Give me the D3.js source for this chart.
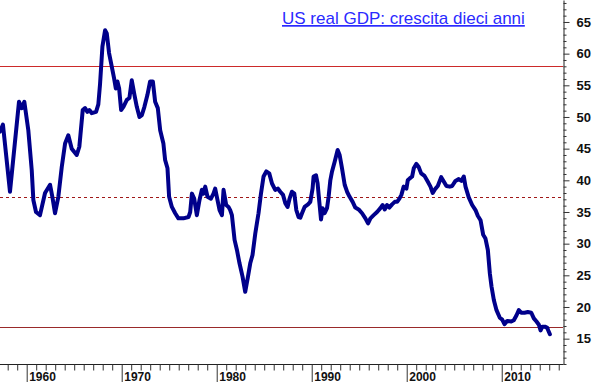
<!DOCTYPE html>
<html><head><meta charset="utf-8">
<script src="https://cdn.jsdelivr.net/npm/d3@7/dist/d3.min.js"></script>
<style>
html,body{margin:0;padding:0;background:#fff;}
svg{display:block;}
</style></head>
<body>
<svg id="chart" width="600" height="382"></svg>
<script>
const title = "US real GDP: crescita dieci anni";
const years = [1957.19,1957.50,1958.24,1959.19,1959.47,1959.75,1960.17,1960.53,1960.70,1960.98,1961.40,1961.93,1962.46,1962.70,1962.98,1963.33,1963.69,1964.04,1964.38,1964.74,1965.27,1965.54,1965.90,1966.14,1966.39,1966.60,1966.85,1967.30,1967.54,1967.72,1967.97,1968.25,1968.43,1968.67,1968.96,1969.20,1969.38,1969.55,1969.73,1969.94,1970.18,1970.54,1970.81,1971.06,1971.34,1971.59,1971.87,1972.12,1972.39,1972.71,1972.99,1973.28,1973.52,1973.80,1974.05,1974.39,1974.57,1974.82,1974.99,1975.28,1975.63,1975.97,1976.50,1977.03,1977.21,1977.39,1977.63,1977.91,1978.19,1978.44,1978.61,1978.79,1979.03,1979.39,1979.66,1979.84,1980.08,1980.30,1980.55,1980.72,1981.00,1981.24,1981.42,1981.60,1981.88,1982.13,1982.40,1982.72,1983.00,1983.29,1983.53,1983.77,1984.06,1984.40,1984.66,1984.93,1985.22,1985.53,1985.82,1986.16,1986.45,1986.69,1986.98,1987.22,1987.46,1987.67,1987.92,1988.17,1988.38,1988.62,1988.80,1988.98,1989.25,1989.61,1989.85,1990.09,1990.20,1990.45,1990.62,1990.80,1990.98,1991.15,1991.36,1991.61,1991.78,1991.96,1992.14,1992.41,1992.73,1992.94,1993.19,1993.47,1993.72,1993.99,1994.31,1994.59,1994.94,1995.30,1995.65,1995.93,1996.18,1996.52,1996.88,1997.23,1997.47,1997.68,1997.93,1998.18,1998.46,1998.74,1998.99,1999.23,1999.44,1999.68,1999.97,2000.11,2000.32,2000.57,2000.74,2001.02,2001.26,2001.52,2001.87,2002.21,2002.50,2002.74,2003.03,2003.27,2003.63,2003.90,2004.18,2004.53,2004.78,2005.13,2005.48,2005.76,2006.01,2006.19,2006.53,2006.89,2007.24,2007.48,2007.77,2008.05,2008.29,2008.54,2008.75,2008.93,2009.17,2009.45,2009.80,2010.05,2010.29,2010.58,2011.00,2011.27,2011.56,2011.80,2012.05,2012.40,2012.75,2013.11,2013.38,2013.66,2013.91,2014.09,2014.27,2014.54,2014.80,2014.90,2015.07];
const growth = [47.7,48.8,38.2,52.4,51.4,52.4,47.9,41.6,36.9,35.0,34.5,38.0,39.3,37.4,34.8,37.4,42.1,45.8,47.1,45.0,44.0,45.3,51.1,51.4,50.8,51.1,50.6,50.8,52.0,55.2,61.1,63.7,63.2,60.1,57.9,56.1,54.5,55.6,54.5,51.1,51.6,52.7,53.0,55.8,53.5,51.6,50.0,50.3,51.6,53.5,55.6,55.6,52.4,51.4,47.9,45.8,43.2,41.9,37.4,35.8,34.8,34.0,34.0,34.2,35.0,37.9,37.1,34.5,36.9,38.5,37.9,39.0,37.4,37.1,37.9,38.7,36.9,35.3,34.5,38.5,36.1,35.8,35.3,34.5,30.6,29.0,26.9,24.8,22.4,24.8,26.9,28.2,31.6,34.8,37.9,40.6,41.4,41.1,39.5,38.5,38.7,38.2,37.7,36.4,35.8,37.1,38.2,37.9,35.3,34.2,34.1,34.8,35.8,36.2,36.6,38.7,40.6,40.8,39.5,36.6,33.8,35.6,34.8,35.6,37.4,40.0,41.4,42.9,44.8,44.0,41.9,39.3,38.2,37.4,36.6,35.7,35.4,34.8,34.0,33.2,34.0,34.5,35.0,35.6,36.1,35.4,36.1,35.7,36.2,36.6,36.6,37.1,37.7,39.0,38.7,40.0,40.3,40.6,41.9,42.6,42.1,41.1,40.7,39.8,39.0,38.0,38.7,39.1,40.5,39.8,39.1,39.0,39.1,39.9,40.2,39.9,40.6,39.0,37.3,36.1,35.3,34.4,33.7,31.4,30.8,29.0,25.3,23.2,21.1,19.5,18.3,18.0,17.3,17.8,17.7,17.9,18.7,19.5,19.1,19.1,19.2,19.1,18.2,17.7,17.2,16.3,16.9,16.9,16.7,16.3,15.7];
const refLevels = [58.0, 37.3, 16.8];
const refStyles = [
  {color:"#cc2a2a", dash:null},
  {color:"#a01818", dash:"3,3"},
  {color:"#992a2a", dash:null}
];
const yMajorTicks = [15,20,25,30,35,40,45,50,55,60,65];
const xMajorTicks = [1960,1970,1980,1990,2000,2010];

const svg = d3.select("#chart");
const plotRight = 563, plotBottom = 364;

const x = d3.scaleLinear().domain([1957.19, 2016.45]).range([0, plotRight]);
const y = d3.scaleLinear().domain([11.0, 68.47]).range([plotBottom, 0]);

// reference lines
refLevels.forEach((v,i)=>{
  svg.append("line")
    .attr("x1",0).attr("x2",plotRight)
    .attr("y1",Math.round(y(v))+0.5).attr("y2",Math.round(y(v))+0.5)
    .attr("stroke",refStyles[i].color).attr("stroke-width",1)
    .attr("stroke-dasharray",refStyles[i].dash);
});

// series line
const data = years.map((yr,i)=>({yr, v: growth[i]}));
svg.append("path").datum(data)
  .attr("fill","none").attr("stroke","#00008b").attr("stroke-width",4)
  .attr("stroke-linejoin","round").attr("stroke-linecap","round")
  .attr("d", d3.line().x(d=>x(d.yr)).y(d=>y(d.v)));

// right axis
const yTicks = d3.range(11, 69);
const yAxis = d3.axisRight(y).tickValues(yTicks)
  .tickFormat(d => yMajorTicks.includes(d) ? d : "")
  .tickSizeOuter(0);
const gy = svg.append("g").attr("transform",`translate(${plotRight+0.5},0)`).call(yAxis);
gy.select(".domain").attr("stroke","#222");
gy.selectAll(".tick line").attr("stroke","#333")
  .attr("x2", d => yMajorTicks.includes(d) ? 6 : 3);
gy.selectAll(".tick text")
  .attr("x", 13).attr("fill","#111")
  .style("font-family","Arial, 'Liberation Sans', sans-serif")
  .style("font-size","13px").style("font-weight","bold");

// bottom axis
const xTicks = d3.range(1958, 2017);
const xAxis = d3.axisBottom(x).tickValues(xTicks)
  .tickFormat(d => xMajorTicks.includes(d) ? d : "")
  .tickSizeOuter(0);
const gx = svg.append("g").attr("transform",`translate(0,${plotBottom+0.5})`).call(xAxis);
gx.select(".domain").attr("stroke","#222").attr("d",`M0,0H${plotRight+0.5}`);
gx.selectAll(".tick line").attr("stroke","#333")
  .attr("y2", d => xMajorTicks.includes(d) ? 20 : 6);
gx.selectAll(".tick text")
  .attr("text-anchor","start").attr("x",2).attr("y",16).attr("dy",null)
  .attr("fill","#111")
  .style("font-family","Arial, 'Liberation Sans', sans-serif")
  .style("font-size","12px").style("font-weight","bold");

// title
svg.append("text").attr("x",282).attr("y",24)
  .attr("fill","#2a2aff")
  .style("font-family","Arial, 'Liberation Sans', sans-serif")
  .style("font-size","17px").style("text-decoration","underline")
  .text(title);
</script>
</body></html>
